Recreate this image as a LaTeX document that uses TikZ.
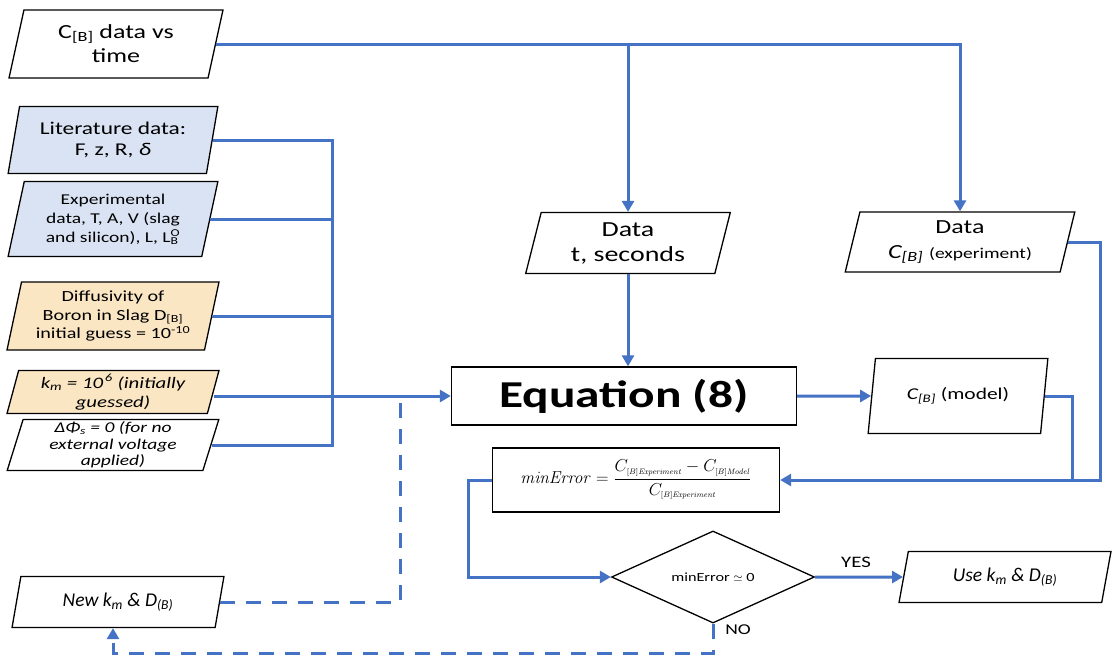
\documentclass[tikz,border=0pt]{standalone}
\usepackage[no-math]{fontspec}
\usepackage{graphicx}
\setmainfont[FakeStretch=1.3]{Carlito}
\newfontfamily\plainf{Carlito}
\usetikzlibrary{shapes.geometric,arrows.meta}
\definecolor{lineblue}{HTML}{4472C4}
\definecolor{fillblue}{HTML}{DAE3F3}
\definecolor{fillgold}{HTML}{FBE6C4}
\newcommand{\fsz}[2]{\fontsize{#1}{#2}\selectfont}
\newcommand{\ssub}[1]{_{\scriptscriptstyle #1}}
\begin{document}
\begin{tikzpicture}[x=1pt,y=-1pt,
  base/.style={draw=black, line width=1.3pt, align=center, inner sep=2pt},
  para/.style={base, trapezium, trapezium left angle=77, trapezium right angle=103, trapezium stretches=true},
  box/.style={base, rectangle},
  link/.style={draw=lineblue, line width=3pt},
  tip/.style={-{Triangle[length=11pt,width=12pt]}},
  arr/.style={link, tip},
  dashlink/.style={link, dash pattern=on 15pt off 11pt},
  lbl/.style={inner sep=0pt}]
\useasboundingbox (0,0) rectangle (1115,656);

% left column
\node[para, fill=white, minimum width=214pt, minimum height=68pt, font=\fsz{20}{24}] (d0) at (116,44) {C\textsubscript{[B]} data vs\\time};
\node[para, fill=fillblue, minimum width=210pt, minimum height=67pt, font=\fsz{18}{21}] (lit) at (113,140) {Literature data:\\F, z, R, \textit{δ}};
\node[para, fill=fillblue, minimum width=210pt, minimum height=75pt, font=\fsz{15}{19}] (exp) at (113,219) {Experimental\\data, T, A, V (slag\\and silicon), L, L\rlap{\textsubscript{B}}\textsuperscript{O}};
\node[para, fill=fillgold, minimum width=212pt, minimum height=68pt, font=\fsz{15.5}{18.5}] (dif) at (113,316) {Diffusivity of\\Boron in Slag D\textsubscript{[B]}\\initial guess = 10\textsuperscript{-10}};
\node[para, fill=fillgold, minimum width=212pt, minimum height=43pt, font=\fsz{16}{19}\itshape] (km) at (113,392) {k\textsubscript{m} = 10\textsuperscript{\,6} (initially\\guessed)};
\node[para, fill=white, minimum width=212pt, minimum height=51pt, font=\fsz{15}{16.5}\itshape] (dphi) at (113,445) {ΔΦ\textsubscript{s} = 0 (for no\\external voltage\\applied)};
\node[para, fill=white, minimum width=212pt, minimum height=51pt, font=\plainf\fsz{19.5}{22}\itshape] (new) at (118,602) {New k\textsubscript{m} \& D\textsubscript{(B)}};

% middle / right
\node[para, fill=white, minimum width=205pt, minimum height=61pt, font=\fsz{21.5}{25}] (dt) at (628,243) {Data\\t, seconds};
\node[para, fill=white, minimum width=230pt, minimum height=60pt, font=\fsz{20}{25}] (dc) at (960,242) {Data\\\textit{C\textsubscript{[B]}} {\fsz{15}{18}(experiment)}};
\node[box, fill=white, minimum width=345pt, minimum height=58pt, font=\fsz{38}{44}\bfseries] (eq) at (624,396) {Equation (8)};
\node[para, fill=white, minimum width=180pt, minimum height=75pt, font=\fsz{16.5}{20}] (cm) at (958,396) {\textit{C\textsubscript{[B]}} (model)};
\node[box, fill=white, minimum width=287pt, minimum height=64pt, inner sep=0pt, font=\fsz{17}{19}] (err) at (636,480) {$\displaystyle \mathit{minError} = \frac{C\ssub{[B]\mathit{Experiment}} - C\ssub{[B]\mathit{Model}}}{C\ssub{[B]\mathit{Experiment}}}$};
\node[base, diamond, fill=white, minimum width=203pt, minimum height=64pt, inner sep=0pt, font=\fsz{12.5}{15}] (dia) at (713,577) {minError $\simeq$ 0};
\node[para, fill=white, minimum width=212pt, minimum height=51pt, font=\plainf\fsz{19.5}{22}\itshape] (use) at (1005,577) {Use k\textsubscript{m} \& D\textsubscript{(B)}};

% coordinates
\coordinate (bus) at (332,0);
\coordinate (rj) at (1100,480);
\coordinate (mj) at (1072,480);
\coordinate (lj) at (468,480);
\coordinate (nb) at (713,653);
\coordinate (nu) at (113,653);
\coordinate (dj) at (400,399);

% connectors
\draw[link] (lit.east) -- (lit.east -| bus) -- (dphi.east -| bus) -- (dphi.east);
\draw[link] (exp.east) -- (exp.east -| bus);
\draw[link] (dif.east) -- (dif.east -| bus);
\draw[arr] ([yshift=-4pt]km.east) -- ([yshift=-4pt]km.east -| eq.west);
\draw[arr] (d0.east) -| (dc.north);
\draw[arr] (d0.east -| dt.north) -- (dt.north);
\draw[arr] (dt.south) -- (dt.south |- eq.north);
\draw[arr] (eq.east) -- (cm.west);
\draw[arr] (dc.east) -| (rj) -- (err.east);
\draw[link] (cm.east) -| (mj);
\draw[arr] (err.west) -- (lj) |- (dia.west);
\draw[arr] (dia.east) -- (use.west);
\draw[dashlink, tip] (dia.south) -- (nb) -- (nu) -- (nu |- new.south);
\draw[dashlink] (new.east) -| (dj);

\node[lbl, font=\fsz{16}{18}] (yes) at (856,562) {YES};
\node[lbl, font=\fsz{15}{17}] (no) at (738,630) {NO};
\end{tikzpicture}
\end{document}
